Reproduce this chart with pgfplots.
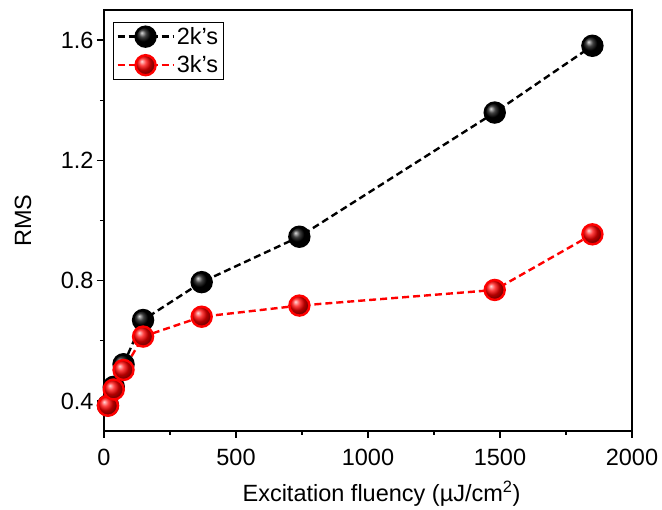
\documentclass[border=0pt]{standalone}
\usepackage{pgfplots}
\pgfplotsset{compat=1.18}
\usepackage{fontspec}
\setmainfont{Liberation Sans}
\begin{document}
\begin{tikzpicture}
\useasboundingbox (-104pt,-79pt) rectangle (558pt,431pt);
\begin{axis}[
  at={(0pt,0pt)}, anchor=south west,
  scale only axis, width=528pt, height=421pt,
  xmin=0, xmax=2000, ymin=0.3, ymax=1.7,
  axis line style={line width=1.2pt},
  tick pos=left, tick align=outside,
  xtick={0,500,...,2000}, ytick={0.4,0.8,1.2,1.6},
  minor x tick num=1, minor y tick num=1,
  major tick length=7pt, minor tick length=4pt,
  every tick/.style={line width=1.2pt, black},
  /pgf/number format/assume math mode=true,
  /pgf/number format/set thousands separator={},
  yticklabel style={/pgf/number format/.cd, fixed, fixed zerofill, precision=1},
  xticklabel style={yshift=-8pt},
  tick label style={font=\fontsize{23.5}{27}\selectfont},
  label style={font=\fontsize{23.5}{27}\selectfont},
  xlabel={Excitation fluency (µJ/cm\textsuperscript{2})},
  ylabel={RMS},
  xlabel style={at={(axis description cs:0.5256,-0.1686)}, anchor=base},
  ylabel style={at={(axis description cs:-0.1534,0.5)}, anchor=center},
  legend style={at={(0,1)}, anchor=north west, xshift=9pt, yshift=-12pt,
    font=\fontsize{23.5}{27}\selectfont, draw=black, line width=0.8pt,
    inner sep=3pt, row sep=6pt},
  legend cell align=left,
  legend image code/.code={\draw[mark repeat=2, mark phase=2] plot coordinates {(0pt,0pt) (28pt,0pt) (56pt,0pt)};},
]
\addplot[black, line width=2.4pt, dash pattern=on 7pt off 4pt,
  mark=ball, mark size=10pt, mark options={solid, ball color=black}]
  coordinates {(15,0.385) (37,0.447) (74,0.522) (148,0.669) (370,0.795) (740,0.946) (1480,1.359) (1850,1.581)};
\addlegendentry{2k's}
\addplot[red, line width=2.4pt, dash pattern=on 7pt off 4pt,
  mark=ball, mark size=10pt, mark options={solid, ball color=red}]
  coordinates {(15,0.384) (37,0.438) (74,0.503) (148,0.614) (370,0.680) (740,0.717) (1480,0.769) (1850,0.954)};
\addlegendentry{3k's}
\end{axis}
\end{tikzpicture}
\end{document}
